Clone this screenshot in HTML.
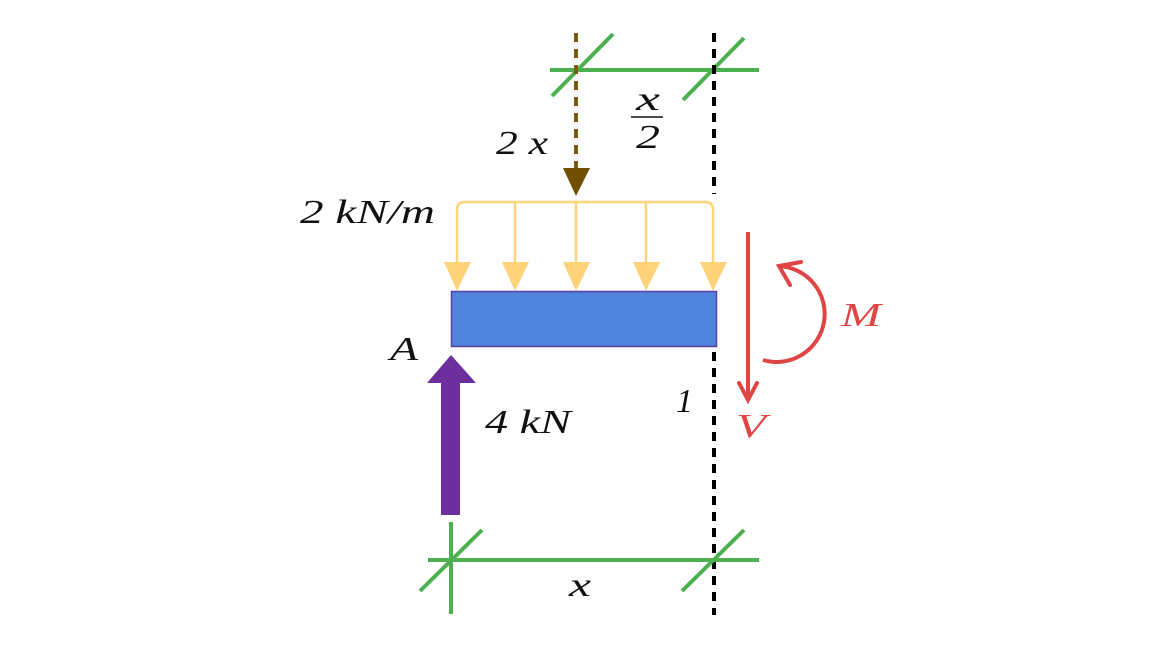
<!DOCTYPE html>
<html><head><style>html,body{margin:0;padding:0;background:#fff}svg{display:block}</style></head>
<body>
<svg width="1167" height="651" viewBox="0 0 1167 651" xmlns="http://www.w3.org/2000/svg" font-family="Liberation Serif, serif" font-style="italic">
<rect width="1167" height="651" fill="#fff"/>
<line x1="550" y1="70" x2="759" y2="70" stroke="#4cb050" stroke-width="4"/>
<line x1="552" y1="96" x2="613" y2="34" stroke="#4cb050" stroke-width="4"/>
<line x1="683" y1="100" x2="744" y2="38" stroke="#4cb050" stroke-width="4"/>
<line x1="576" y1="33" x2="576" y2="168" stroke="#7a5a10" stroke-width="4" stroke-dasharray="9,7"/>
<polygon points="563,168 590,168 576,196" fill="#705000"/>
<line x1="714" y1="33" x2="714" y2="194" stroke="#000" stroke-width="4" stroke-dasharray="9,7"/>
<line x1="714" y1="352" x2="714" y2="615" stroke="#000" stroke-width="4" stroke-dasharray="9,7"/>
<path d="M457,262 V210 Q457,202 465,202 H705 Q713,202 713,210 V262" fill="none" stroke="#ffd37a" stroke-width="2.5"/>
<g stroke="#ffd37a" stroke-width="2.5"><line x1="515" y1="202" x2="515" y2="262"/><line x1="576" y1="202" x2="576" y2="262"/><line x1="646" y1="202" x2="646" y2="262"/></g>
<g fill="#ffd37a">
<polygon points="444,262 471,262 457,291"/><polygon points="502,262 529,262 515,291"/><polygon points="563,262 590,262 576,291"/><polygon points="633,262 660,262 646,291"/><polygon points="700,262 727,262 713,291"/></g>
<rect x="451.5" y="291.5" width="265" height="55" fill="#4f83dd" stroke="#5a3fa0" stroke-width="1.5"/>
<rect x="441" y="383" width="19" height="132" fill="#6d2e9e"/>
<polygon points="427,383 476,383 451,355" fill="#6d2e9e"/>
<line x1="428" y1="560" x2="759" y2="560" stroke="#4cb050" stroke-width="4"/>
<line x1="451" y1="522" x2="451" y2="614" stroke="#4cb050" stroke-width="4"/>
<line x1="420" y1="591" x2="482" y2="530" stroke="#4cb050" stroke-width="4"/>
<line x1="682" y1="591" x2="744" y2="530" stroke="#4cb050" stroke-width="4"/>
<line x1="748" y1="232" x2="748" y2="398" stroke="#e04444" stroke-width="4"/>
<polyline points="739,383 748,400 757,383" fill="none" stroke="#e04444" stroke-width="4" stroke-linecap="round"/>
<path d="M778,266 A48,48 0 1 1 763,360" fill="none" stroke="#e04444" stroke-width="4"/>
<polyline points="801,262 779,266 790,285" fill="none" stroke="#e04444" stroke-width="4" stroke-linecap="round"/>
<g font-size="34" fill="#111">
<text x="496" y="154" textLength="52" lengthAdjust="spacingAndGlyphs">2 x</text>
<text x="636" y="110" textLength="24" lengthAdjust="spacingAndGlyphs">x</text>
<line x1="631" y1="117" x2="663" y2="117" stroke="#111" stroke-width="1.5"/>
<text x="636" y="148" textLength="24" lengthAdjust="spacingAndGlyphs">2</text>
<text x="300" y="223" textLength="135" lengthAdjust="spacingAndGlyphs">2 kN/m</text>
<text x="390" y="360" textLength="28" lengthAdjust="spacingAndGlyphs">A</text>
<text x="485" y="433" textLength="86" lengthAdjust="spacingAndGlyphs">4 kN</text>
<text x="676" y="412">1</text>
<text x="569" y="596" textLength="22" lengthAdjust="spacingAndGlyphs">x</text>
</g>
<g font-size="34" fill="#e04444">
<text x="736" y="437" textLength="30" lengthAdjust="spacingAndGlyphs">V</text>
<text x="841" y="326" textLength="40" lengthAdjust="spacingAndGlyphs">M</text>
</g>
</svg>
</body></html>
